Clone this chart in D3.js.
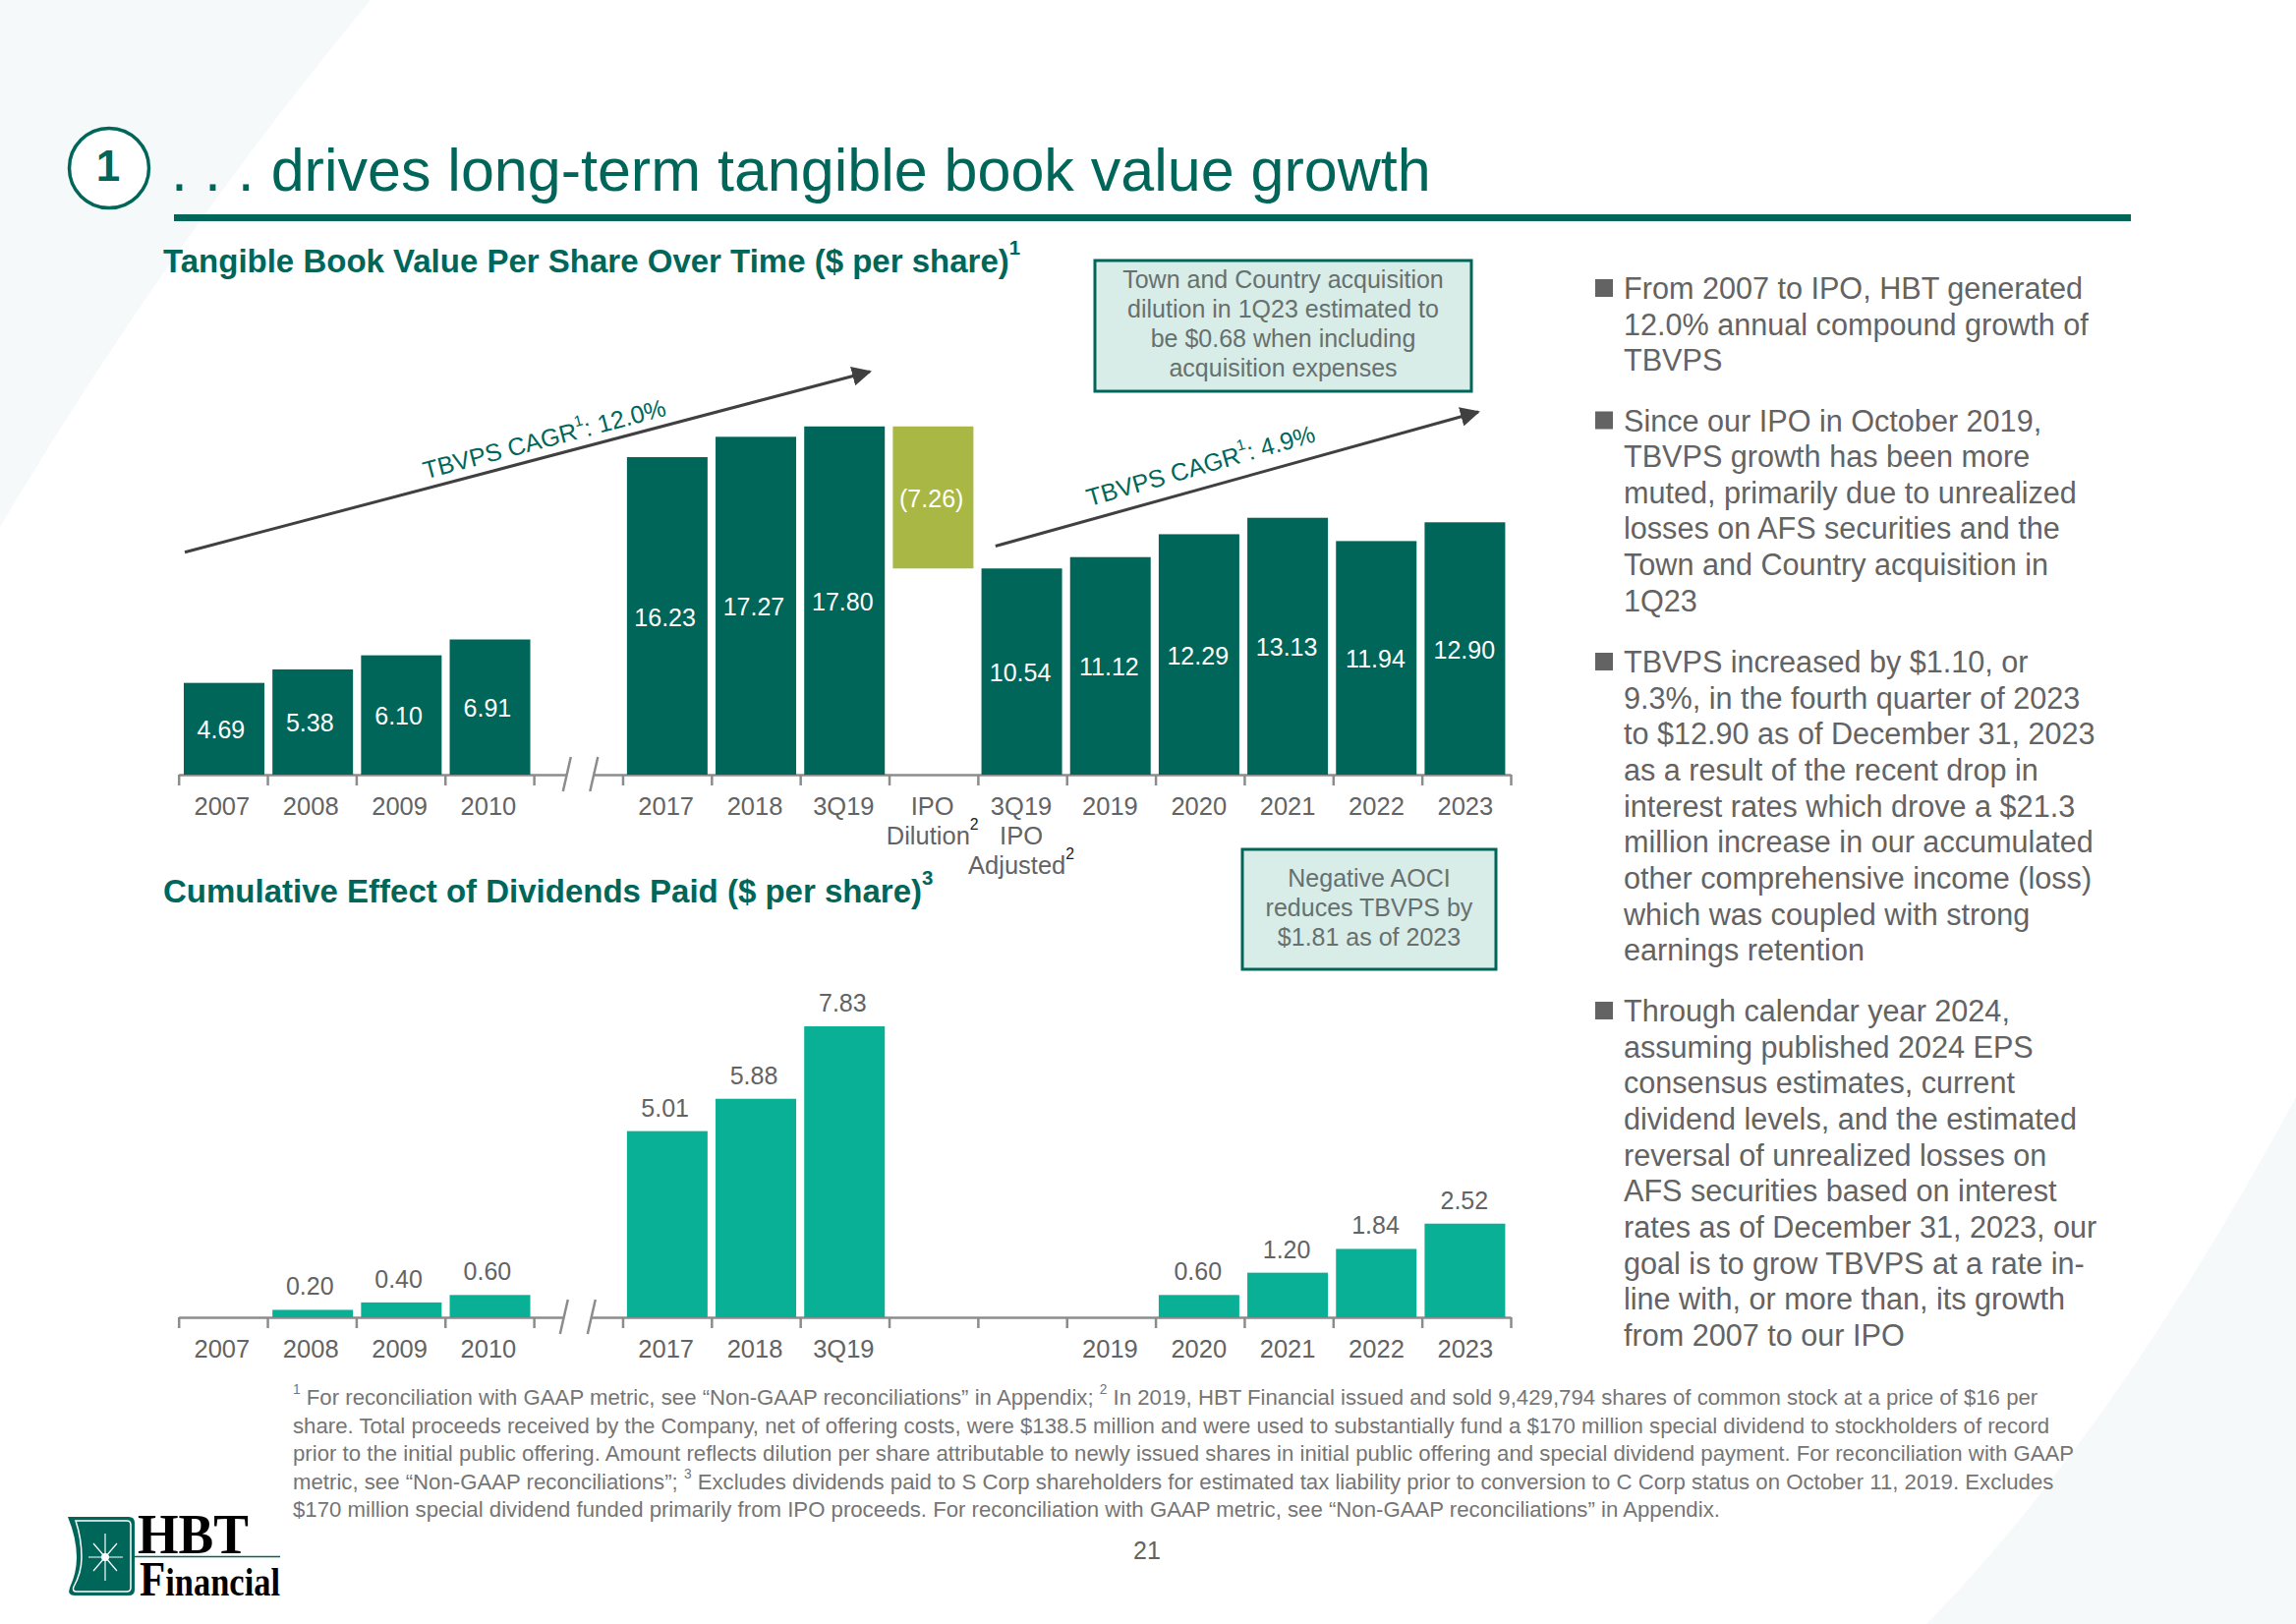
<!DOCTYPE html>
<html>
<head>
<meta charset="utf-8">
<title>HBT Financial - tangible book value</title>
<script src="https://cdn.jsdelivr.net/npm/d3@7"></script>
<style>
  html, body { margin: 0; padding: 0; background: #fff; }
  svg { display: block; font-family: "Liberation Sans", Arial, sans-serif; }
</style>
</head>
<body>
<div id="chart"></div>
<script>
var categories = ["2007","2008","2009","2010","gap","2017","2018","3Q19","IPO","3Q19adj","2019","2020","2021","2022","2023"];

var tbvpsValues = [4.69,5.38,6.10,6.91,null,16.23,17.27,17.80,7.26,10.54,11.12,12.29,13.13,11.94,12.90];
var tbvpsBase   = [0,0,0,0,null,0,0,0,10.54,0,0,0,0,0,0];
var tbvpsText   = ["4.69","5.38","6.10","6.91","","16.23","17.27","17.80","(7.26)","10.54","11.12","12.29","13.13","11.94","12.90"];
var tbvpsTicks  = [["2007"],["2008"],["2009"],["2010"],[""],["2017"],["2018"],["3Q19"],["IPO","Dilution^2"],["3Q19","IPO","Adjusted^2"],["2019"],["2020"],["2021"],["2022"],["2023"]];

var dividendValues = [null,0.20,0.40,0.60,null,5.01,5.88,7.83,null,null,null,0.60,1.20,1.84,2.52];
var dividendText   = ["","0.20","0.40","0.60","","5.01","5.88","7.83","","","","0.60","1.20","1.84","2.52"];
var dividendTicks  = ["2007","2008","2009","2010","","2017","2018","3Q19","","","2019","2020","2021","2022","2023"];

var bullets = [
  ["From 2007 to IPO, HBT generated","12.0% annual compound growth of","TBVPS"],
  ["Since our IPO in October 2019,","TBVPS growth has been more","muted, primarily due to unrealized","losses on AFS securities and the","Town and Country acquisition in","1Q23"],
  ["TBVPS increased by $1.10, or","9.3%, in the fourth quarter of 2023","to $12.90 as of December 31, 2023","as a result of the recent drop in","interest rates which drove a $21.3","million increase in our accumulated","other comprehensive income (loss)","which was coupled with strong","earnings retention"],
  ["Through calendar year 2024,","assuming published 2024 EPS","consensus estimates, current","dividend levels, and the estimated","reversal of unrealized losses on","AFS securities based on interest","rates as of December 31, 2023, our","goal is to grow TBVPS at a rate in-","line with, or more than, its growth","from 2007 to our IPO"]
];
var bulletY = [304, 438.5, 684, 1039];

var footnotes = [
  "^1 For reconciliation with GAAP metric, see “Non-GAAP reconciliations” in Appendix; ^2 In 2019, HBT Financial issued and sold 9,429,794 shares of common stock at a price of $16 per",
  "share. Total proceeds received by the Company, net of offering costs, were $138.5 million and were used to substantially fund a $170 million special dividend to stockholders of record",
  "prior to the initial public offering. Amount reflects dilution per share attributable to newly issued shares in initial public offering and special dividend payment. For reconciliation with GAAP",
  "metric, see “Non-GAAP reconciliations”; ^3 Excludes dividends paid to S Corp shareholders for estimated tax liability prior to conversion to C Corp status on October 11, 2019. Excludes",
  "$170 million special dividend funded primarily from IPO proceeds. For reconciliation with GAAP metric, see “Non-GAAP reconciliations” in Appendix."
];

var callouts = [
  {x: 1114, y: 265, w: 383, h: 133, lines: ["Town and Country acquisition","dilution in 1Q23 estimated to","be $0.68 when including","acquisition expenses"]},
  {x: 1264, y: 864, w: 258, h: 122, lines: ["Negative AOCI","reduces TBVPS by","$1.81 as of 2023"]}
];

var DARK = "#00665a", TEAL = "#0ab096", OLIVE = "#a9b844", GREY = "#636363", ARROW = "#404040", AXIS = "#8c8c8c";

var width = 2336, height = 1652;

var svg = d3.select("#chart").append("svg")
    .attr("width", width)
    .attr("height", height);

// text with ^n superscripts, raise is in em of the parent text
function richText(sel, str, raise, supColor) {
  raise = raise || 0.5;
  var parts = str.split(/\^(\d)/);
  var wasSup = false;
  parts.forEach(function(p, i) {
    if (p === "") return;
    var sup = i % 2 === 1;
    var t = sel.append("tspan").text(p);
    if (sup) {
      t.attr("font-size", "0.62em").attr("dy", (-raise / 0.62) + "em");
      if (supColor) t.attr("fill", supColor);
    } else if (wasSup) {
      t.attr("dy", raise + "em");
    }
    wasSup = sup;
  });
  return sel;
}

// background shapes
svg.append("path")
    .attr("d", "M0,0 L377,0 Q170,250 0,536 Z")
    .attr("fill", "#f5f9fa");
svg.append("path")
    .attr("d", "M2336,1116 Q2152,1456 1960,1652 L2336,1652 Z")
    .attr("fill", "#f5f9fa");

// header
svg.append("circle")
    .attr("cx", 111).attr("cy", 171).attr("r", 40.5)
    .attr("fill", "#fff").attr("stroke", DARK).attr("stroke-width", 3.5);
svg.append("text")
    .attr("x", 110).attr("y", 184).attr("text-anchor", "middle")
    .attr("font-size", 44).attr("font-weight", "bold").attr("fill", DARK)
    .text("1");
svg.append("text")
    .attr("x", 174).attr("y", 194)
    .attr("font-size", 61).attr("fill", DARK)
    .text(". . . drives long-term tangible book value growth");
svg.append("rect")
    .attr("x", 177).attr("y", 218).attr("width", 1991).attr("height", 7)
    .attr("fill", DARK);

richText(svg.append("text")
    .attr("x", 166).attr("y", 277)
    .attr("font-size", 33).attr("font-weight", "bold").attr("fill", DARK),
    "Tangible Book Value Per Share Over Time ($ per share)^1", 0.55);
richText(svg.append("text")
    .attr("x", 166).attr("y", 918)
    .attr("font-size", 33).attr("font-weight", "bold").attr("fill", DARK),
    "Cumulative Effect of Dividends Paid ($ per share)^3", 0.55);

// scales: ticks sit on the band edges, bars run on a slightly tighter step
var x = d3.scaleBand()
    .domain(categories)
    .range([181.7, 1537]);
var xBar = d3.scaleBand()
    .domain(categories)
    .range([183, 1535.6]);
var edge = d3.scaleLinear()
    .domain([0, categories.length])
    .range([181.7, 1537]);
var y1 = d3.scaleLinear().domain([0, 20]).range([788, 390]);
var y2 = d3.scaleLinear().domain([0, 8]).range([1340, 1037.6]);

var barWidth = 82, barShift = 4;

function drawAxis(baseline, off1, off2) {
  var g = svg.append("g")
      .attr("transform", "translate(0," + baseline + ")");
  g.call(d3.axisBottom(edge)
      .tickValues(d3.range(categories.length + 1))
      .tickFormat("")
      .tickSize(11)
      .tickSizeOuter(0));
  g.selectAll("path,line").attr("stroke", AXIS).attr("stroke-width", 2.5);

  // axis break
  var mid = x("gap") + x.bandwidth() / 2;
  g.append("rect")
      .attr("x", mid + off1).attr("y", -3).attr("width", off2 - off1).attr("height", 6)
      .attr("fill", "#fff");
  [off1, off2].forEach(function(off) {
    g.append("line")
        .attr("x1", mid + off - 4).attr("y1", 17)
        .attr("x2", mid + off + 4).attr("y2", -18)
        .attr("stroke", AXIS).attr("stroke-width", 2.5);
  });
  return g;
}

// top chart
drawAxis(y1(0), -11.5, 16);

var tbvpsData = categories.map(function(c, i) { return {c: c, v: tbvpsValues[i], b: tbvpsBase[i], t: tbvpsText[i]}; })
    .filter(function(d) { return d.v !== null; });

svg.append("g").selectAll("rect")
    .data(tbvpsData)
  .enter().append("rect")
    .attr("x", function(d) { return xBar(d.c) + barShift; })
    .attr("y", function(d) { return y1(d.b + d.v); })
    .attr("width", barWidth)
    .attr("height", function(d) { return y1(d.b) - y1(d.b + d.v); })
    .attr("fill", function(d) { return d.c === "IPO" ? OLIVE : DARK; });

svg.append("g").selectAll("text")
    .data(tbvpsData)
  .enter().append("text")
    .attr("x", function(d) { return x(d.c) + x.bandwidth() / 2 - 2; })
    .attr("y", function(d) { return y1(d.b + d.v / 2) + 10; })
    .attr("text-anchor", "middle")
    .attr("font-size", 25)
    .attr("fill", "#fff")
    .text(function(d) { return d.t; });

categories.forEach(function(c, i) {
  tbvpsTicks[i].forEach(function(line, j) {
    richText(svg.append("text")
        .attr("x", x(c) + x.bandwidth() / 2 - 1)
        .attr("y", 829 + j * 30)
        .attr("text-anchor", "middle")
        .attr("font-size", 25.5)
        .attr("fill", GREY), line, 0.6, "#222");
  });
});

// bottom chart
drawAxis(y2(0), -14.5, 13.5);

var divData = categories.map(function(c, i) { return {c: c, v: dividendValues[i], t: dividendText[i]}; })
    .filter(function(d) { return d.v !== null; });

svg.append("g").selectAll("rect")
    .data(divData)
  .enter().append("rect")
    .attr("x", function(d) { return xBar(d.c) + barShift; })
    .attr("y", function(d) { return y2(d.v); })
    .attr("width", barWidth)
    .attr("height", function(d) { return y2(0) - y2(d.v); })
    .attr("fill", TEAL);

svg.append("g").selectAll("text")
    .data(divData)
  .enter().append("text")
    .attr("x", function(d) { return x(d.c) + x.bandwidth() / 2 - 2; })
    .attr("y", function(d) { return y2(d.v) - 15; })
    .attr("text-anchor", "middle")
    .attr("font-size", 25)
    .attr("fill", GREY)
    .text(function(d) { return d.t; });

svg.append("g").selectAll("text")
    .data(categories)
  .enter().append("text")
    .attr("x", function(c) { return x(c) + x.bandwidth() / 2 - 1; })
    .attr("y", 1381)
    .attr("text-anchor", "middle")
    .attr("font-size", 25.5)
    .attr("fill", GREY)
    .text(function(c, i) { return dividendTicks[i]; });

// growth arrows
svg.append("defs").append("marker")
    .attr("id", "head")
    .attr("viewBox", "0 0 10 10")
    .attr("refX", 9).attr("refY", 5)
    .attr("markerUnits", "userSpaceOnUse")
    .attr("markerWidth", 20).attr("markerHeight", 20)
    .attr("orient", "auto")
  .append("path")
    .attr("d", "M0,0 L10,5 L0,10 Z")
    .attr("fill", ARROW);

[[188, 561.7, 885, 378], [1012.8, 555.5, 1504, 419]].forEach(function(a) {
  svg.append("line")
      .attr("x1", a[0]).attr("y1", a[1]).attr("x2", a[2]).attr("y2", a[3])
      .attr("stroke", ARROW).attr("stroke-width", 3)
      .attr("marker-end", "url(#head)");
});

richText(svg.append("text")
    .attr("transform", "translate(556,455) rotate(-14.8)")
    .attr("text-anchor", "middle")
    .attr("font-size", 25).attr("fill", DARK), "TBVPS CAGR^1: 12.0%");
richText(svg.append("text")
    .attr("transform", "translate(1224,482) rotate(-16)")
    .attr("text-anchor", "middle")
    .attr("font-size", 25).attr("fill", DARK), "TBVPS CAGR^1: 4.9%");

// callout boxes
callouts.forEach(function(c) {
  svg.append("rect")
      .attr("x", c.x).attr("y", c.y).attr("width", c.w).attr("height", c.h)
      .attr("fill", "#d8ece8").attr("stroke", DARK).attr("stroke-width", 3);
  svg.append("g").selectAll("text")
      .data(c.lines)
    .enter().append("text")
      .attr("x", c.x + c.w / 2)
      .attr("y", function(d, i) { return c.y + c.h / 2 + 6.5 + (i - (c.lines.length - 1) / 2) * 30; })
      .attr("text-anchor", "middle")
      .attr("font-size", 25)
      .attr("fill", "#66716f")
      .text(function(d) { return d; });
});

// right hand bullets
bullets.forEach(function(lines, k) {
  svg.append("rect")
      .attr("x", 1623).attr("y", bulletY[k] - 20).attr("width", 18).attr("height", 18)
      .attr("fill", GREY);
  svg.append("g").selectAll("text")
      .data(lines)
    .enter().append("text")
      .attr("x", 1652)
      .attr("y", function(d, i) { return bulletY[k] + i * 36.65; })
      .attr("font-size", 30.6)
      .attr("fill", GREY)
      .text(function(d) { return d; });
});

// footnotes
footnotes.forEach(function(line, i) {
  richText(svg.append("text")
      .attr("x", 298)
      .attr("y", 1429 + i * 28.6)
      .attr("font-size", 22.2)
      .attr("fill", "#757575"), line);
});

svg.append("text")
    .attr("x", 1167).attr("y", 1586)
    .attr("text-anchor", "middle")
    .attr("font-size", 25).attr("fill", GREY)
    .text("21");

// logo
var logo = svg.append("g");
logo.append("path")
    .attr("d", "M69,1543 L131,1543 Q137,1543 137,1549 L137,1617 Q137,1623 131,1623 L76,1623 Q68,1623 71,1615 Q78,1600 78,1584 Q78,1565 69,1543 Z")
    .attr("fill", DARK);
logo.append("path")
    .attr("d", "M77,1547 L129,1547 Q133,1547 133,1551 L133,1615 Q133,1619 129,1619 L78,1619 Q73,1619 75,1614 Q83,1600 83,1584 Q83,1565 77,1547 Z")
    .attr("fill", "none").attr("stroke", "#fff").attr("stroke-width", 1.5);
[[107,1560,107,1608],[90,1584,125,1584],[95,1570,119,1598],[95,1598,119,1570]].forEach(function(l) {
  logo.append("line")
      .attr("x1", l[0]).attr("y1", l[1]).attr("x2", l[2]).attr("y2", l[3])
      .attr("stroke", "#fff").attr("stroke-width", 1.2);
});
logo.append("circle").attr("cx", 107).attr("cy", 1584).attr("r", 4).attr("fill", "#fff");
logo.append("line")
    .attr("x1", 137).attr("y1", 1583.5).attr("x2", 285).attr("y2", 1583.5)
    .attr("stroke", DARK).attr("stroke-width", 1.5);
logo.append("text")
    .attr("x", 140).attr("y", 1580)
    .attr("font-family", "'Liberation Serif', serif").attr("font-weight", "bold")
    .attr("font-size", 56).attr("fill", "#000")
    .attr("textLength", 113).attr("lengthAdjust", "spacingAndGlyphs")
    .text("HBT");
var fin = logo.append("text")
    .attr("x", 142).attr("y", 1622.5)
    .attr("font-family", "'Liberation Serif', serif").attr("font-weight", "bold")
    .attr("font-size", 40).attr("fill", "#000")
    .attr("textLength", 143).attr("lengthAdjust", "spacingAndGlyphs");
fin.append("tspan").attr("font-size", 50).text("F");
fin.append("tspan").text("inancial");
</script>
</body>
</html>
